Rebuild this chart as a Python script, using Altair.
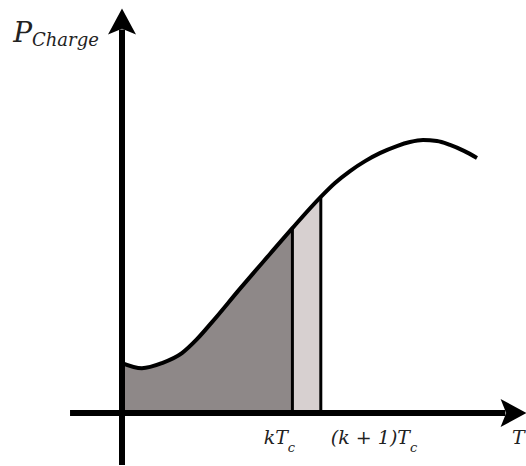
import altair as alt
import pandas as pd

# Charging power curve P(T), in units of the control period Tc
T_vals = [0, 0.70, 1.41, 2.11, 2.64, 3.17, 4.15, 5.21, 6, 7, 7.5, 8.03, 8.56,
          9.08, 9.68, 10.14, 10.6, 11.09, 11.55, 12.04, 12.5]
P_vals = [1.76, 1.58, 1.76, 2.11, 2.60, 3.20, 4.37, 5.60, 6.51, 7.61, 8.10, 8.52, 8.87,
          9.15, 9.40, 9.54, 9.61, 9.58, 9.44, 9.23, 8.98]

k_T = 6        # kTc
k1_T = 7       # (k+1)Tc

# axis extents (data units)
axis_min = -1.83
axis_end = 13.5
arrow_pos = 13.75

# label table
label_text = ["P", "Charge", "kT", "c", "(k + 1)T", "c", "T"]
label_x = [-3.17, -3.17, 5.84, 5.84, 10.14, 10.14, 13.73]
label_y = [13.06, 12.92, -1.09, -1.37, -1.09, -1.37, -1.09]
label_size = [28, 18, 19, 13, 19, 13, 19]
label_align = ["right", "left", "right", "left", "right", "left", "left"]

FONT = "DejaVu Serif"

curve = pd.DataFrame({"T": T_vals, "P": P_vals})
labels = pd.DataFrame({"text": label_text, "x": label_x, "y": label_y,
                       "size": label_size, "align": label_align})

x_scale = alt.Scale(domain=[-122 / 28.4, 404 / 28.4], nice=False, zero=False)
y_scale = alt.Scale(domain=[-53 / 28.4, 413 / 28.4], nice=False, zero=False)
X = lambda f: alt.X(f, type="quantitative", scale=x_scale, axis=None)
Y = lambda f: alt.Y(f, type="quantitative", scale=y_scale, axis=None)

base = alt.Chart(curve)

dark = base.transform_filter(alt.datum.T <= k_T).mark_area(
    color="#8e8888", interpolate="monotone"
).encode(x=X("T"), y=Y("P"), y2=alt.datum(0))

light = base.transform_filter(
    (alt.datum.T >= k_T) & (alt.datum.T <= k1_T)
).mark_area(color="#d7d0d0", interpolate="monotone").encode(
    x=X("T"), y=Y("P"), y2=alt.datum(0)
)

bounds = base.transform_filter(
    (alt.datum.T == k_T) | (alt.datum.T == k1_T)
).mark_rule(color="black", strokeWidth=3).encode(
    x=X("T"), y=Y("P"), y2=alt.datum(0)
)

line = base.mark_line(color="black", strokeWidth=4, interpolate="monotone").encode(
    x=X("T"), y=Y("P")
)

axes_df = pd.DataFrame({
    "x": [axis_min, 0], "x2": [axis_end, 0],
    "y": [0, axis_min], "y2": [0, axis_end],
})
axes = alt.Chart(axes_df).mark_rule(color="black", strokeWidth=6).encode(
    x=X("x"), x2="x2", y=Y("y"), y2="y2"
)

arrow_shape = "M0,-1L1,0.85L0,0.45L-1,0.85Z"
arrows_df = pd.DataFrame({"x": [0, arrow_pos], "y": [arrow_pos, 0], "angle": [0, 90]})
arrows = alt.Chart(arrows_df).mark_point(
    shape=arrow_shape, filled=True, color="black", size=784, opacity=1
).encode(x=X("x"), y=Y("y"), angle=alt.Angle("angle:Q", scale=None))


def text_layer(align):
    return alt.Chart(labels).transform_filter(alt.datum.align == align).mark_text(
        font=FONT, fontStyle="italic", color="#222",
        baseline="alphabetic", align=align
    ).encode(
        x=X("x"), y=Y("y"), text="text:N",
        size=alt.Size("size:Q", scale=None),
    )


chart = alt.layer(
    dark, light, bounds, line, axes, arrows, text_layer("left"), text_layer("right")
).properties(
    width=526, height=466, padding=0, autosize="none", background="white"
).configure_view(stroke=None)

chart.save("out.html", embed_options={"renderer": "svg", "actions": False})
